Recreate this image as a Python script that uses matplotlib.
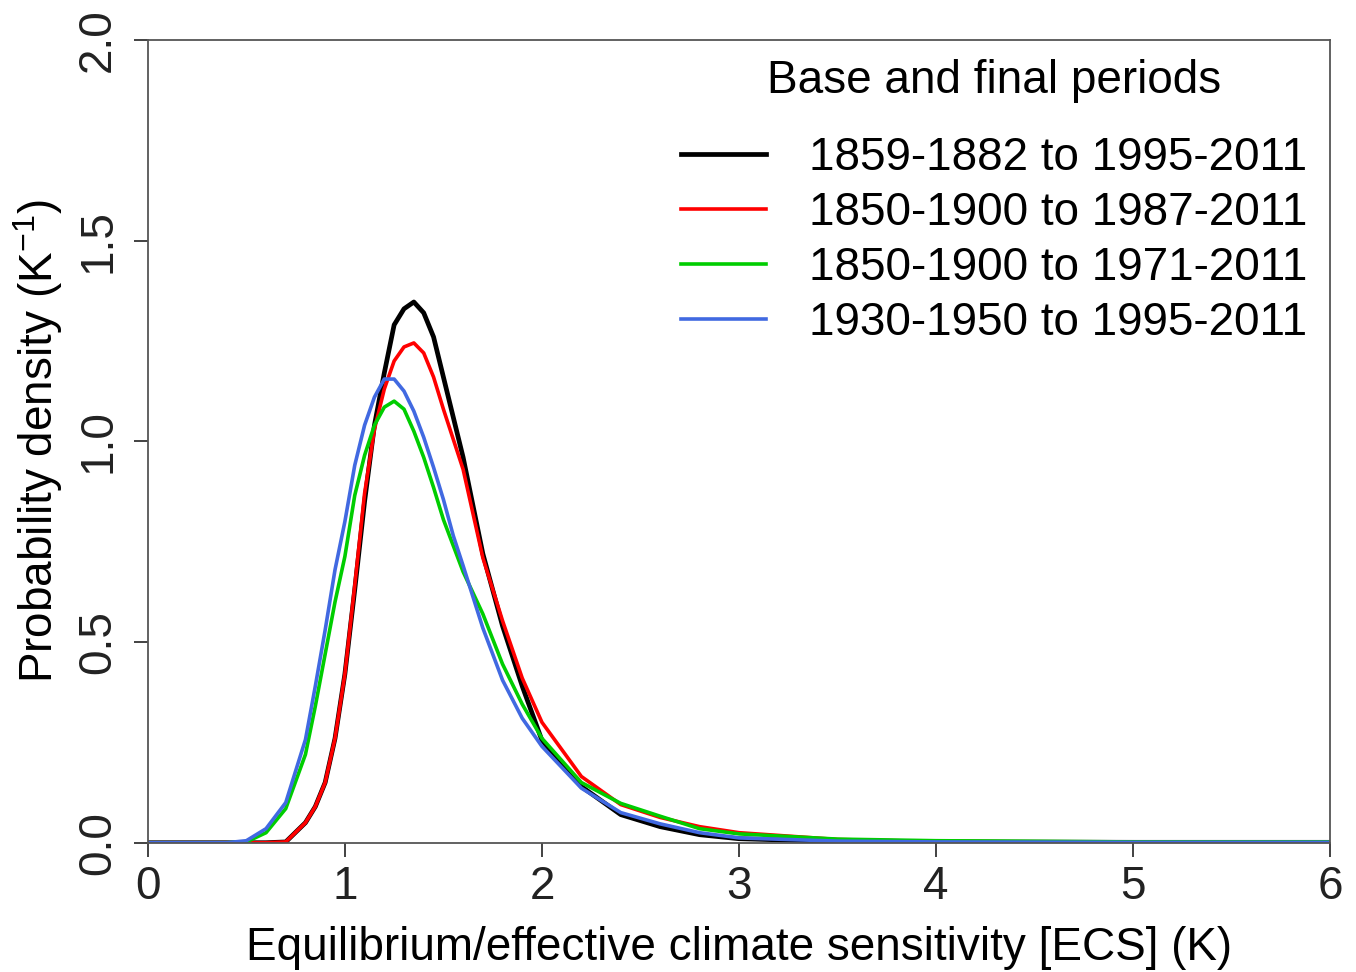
import matplotlib
matplotlib.use("Agg")
import matplotlib.pyplot as plt
import numpy as np

plt.rcParams['font.family'] = ['Liberation Sans', 'DejaVu Sans']
plt.rcParams['mathtext.fontset'] = 'custom'
plt.rcParams['mathtext.rm'] = 'Liberation Sans'
plt.rcParams['mathtext.it'] = 'Liberation Sans'

# values
ecs = [0, 0.4, 0.5, 0.6, 0.7, 0.8, 0.85, 0.9, 0.95, 1.0, 1.05, 1.1, 1.15, 1.2, 1.25,
       1.3, 1.35, 1.4, 1.45, 1.5, 1.55, 1.6, 1.7, 1.8, 1.9, 2.0, 2.2, 2.4, 2.6,
       2.8, 3.0, 3.5, 4.0, 5.0, 6.0]

pdf_black = [0, 0, 0, 0, 0.002, 0.05, 0.09, 0.15, 0.26, 0.42, 0.63, 0.85, 1.04, 1.17, 1.29,
             1.33, 1.347, 1.32, 1.26, 1.16, 1.06, 0.96, 0.72, 0.54, 0.39, 0.255, 0.14, 0.07, 0.04,
             0.02, 0.01, 0.003, 0.002, 0.001, 0.001]
pdf_red = [0, 0, 0, 0, 0.002, 0.05, 0.09, 0.15, 0.26, 0.42, 0.64, 0.87, 1.03, 1.13, 1.20,
           1.235, 1.245, 1.22, 1.16, 1.08, 1.005, 0.93, 0.71, 0.553, 0.41, 0.30, 0.165, 0.095, 0.063,
           0.04, 0.025, 0.008, 0.003, 0.001, 0.001]
pdf_green = [0, 0, 0.002, 0.025, 0.085, 0.22, 0.34, 0.47, 0.6, 0.713, 0.865, 0.965, 1.04, 1.085, 1.10,
             1.08, 1.025, 0.96, 0.885, 0.805, 0.74, 0.675, 0.57, 0.445, 0.345, 0.26, 0.15, 0.098, 0.066,
             0.035, 0.022, 0.009, 0.005, 0.002, 0.002]
pdf_blue = [0, 0, 0.005, 0.035, 0.10, 0.257, 0.39, 0.53, 0.68, 0.80, 0.94, 1.04, 1.11, 1.155, 1.155,
            1.125, 1.075, 1.01, 0.935, 0.855, 0.765, 0.69, 0.535, 0.405, 0.31, 0.24, 0.136, 0.075, 0.047,
            0.025, 0.012, 0.004, 0.002, 0.001, 0.001]

labels = ["1859-1882 to 1995-2011", "1850-1900 to 1987-2011",
          "1850-1900 to 1971-2011", "1930-1950 to 1995-2011"]

fs = 33

fig = plt.figure(figsize=(13.56, 9.72), dpi=100)
ax = fig.add_axes([0.109, 0.133, 0.872, 0.826])

ax.plot(ecs, pdf_black, color='black', lw=3.4, label=labels[0])
ax.plot(ecs, pdf_red, color='#FF0000', lw=2.6, label=labels[1])
ax.plot(ecs, pdf_green, color='#00CD00', lw=2.6, label=labels[2])
ax.plot(ecs, pdf_blue, color='#4169E1', lw=2.6, label=labels[3])

ax.set_xlim(0, 6)
ax.set_ylim(0, 2.0)
ax.set_xticks([0, 1, 2, 3, 4, 5, 6])
ax.set_yticks([0, 0.5, 1.0, 1.5, 2.0])
ax.set_yticklabels(["0.0", "0.5", "1.0", "1.5", "2.0"], rotation=90, va='center')
ax.tick_params(direction='out', length=10, width=1.2, labelsize=fs, pad=6, colors='#222222')
ax.tick_params(axis='y', pad=10)
for s in ax.spines.values():
    s.set_color('#555555')
    s.set_linewidth(1.3)

ax.set_xlabel("Equilibrium/effective climate sensitivity [ECS] (K)", fontsize=fs, labelpad=12)
ax.set_ylabel(r"Probability density (K$^{-1}$)", fontsize=fs, labelpad=8)

leg = ax.legend(title="Base and final periods", loc='upper right', frameon=False,
                fontsize=fs, title_fontsize=fs, handlelength=1.86, handletextpad=0.94,
                labelspacing=0.24, borderaxespad=0.2, bbox_to_anchor=(1.004, 1.011))
leg._legend_box.sep = 24

fig.savefig("out.png", dpi=100)
